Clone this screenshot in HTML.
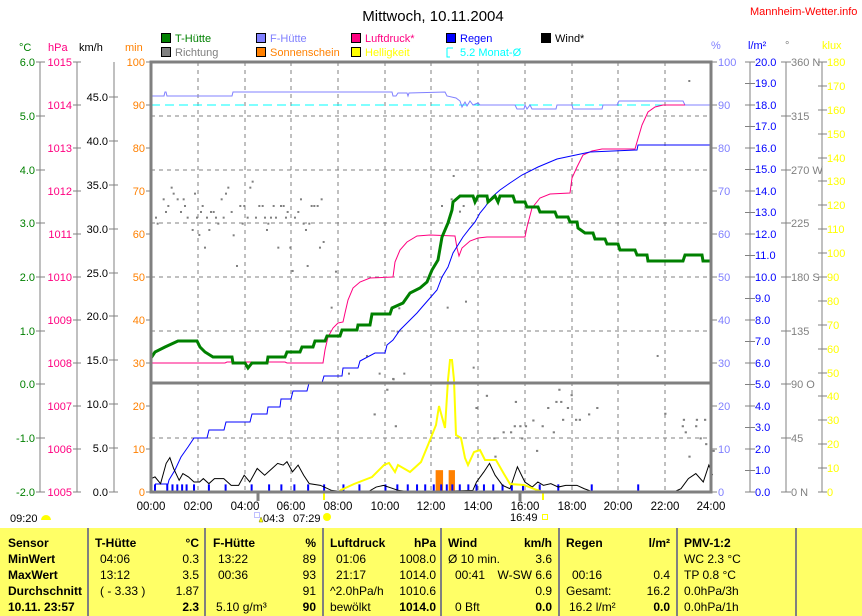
<!DOCTYPE html>
<html><head><meta charset="utf-8"><style>
html,body{margin:0;padding:0;background:#fff;}
svg{display:block;font-family:"Liberation Sans",sans-serif;font-size:11px;}
.ns{vector-effect:non-scaling-stroke;fill:none;}
.t{font-size:12px;}
.b{font-weight:bold;}
</style></head><body>
<svg width="862" height="616" viewBox="0 0 862 616" xmlns="http://www.w3.org/2000/svg">
<rect width="862" height="616" fill="#fff"/>
<text x="433" y="21" text-anchor="middle" font-size="15">Mittwoch, 10.11.2004</text>
<text x="750" y="15" fill="#ff0000">Mannheim-Wetter.info</text>
<!-- legend -->
<g stroke="#000" stroke-width="1">
<rect x="161.5" y="33.5" width="9" height="9" fill="#008000"/>
<rect x="256.5" y="33.5" width="9" height="9" fill="#8080ff"/>
<rect x="351.5" y="33.5" width="9" height="9" fill="#ff0080"/>
<rect x="446.5" y="33.5" width="9" height="9" fill="#0000ff"/>
<rect x="541.5" y="33.5" width="9" height="9" fill="#000"/>
<rect x="161.5" y="47.5" width="9" height="9" fill="#808080"/>
<rect x="256.5" y="47.5" width="9" height="9" fill="#ff8000"/>
<rect x="351.5" y="47.5" width="9" height="9" fill="#ffff00"/>
</g>
<path d="M447 48 h6 M447 48 v9 h3" stroke="#00ffff" fill="none"/>
<text x="175" y="42" fill="#008000">T-Hütte</text>
<text x="270" y="42" fill="#8080ff">F-Hütte</text>
<text x="365" y="42" fill="#ff0080">Luftdruck*</text>
<text x="460" y="42" fill="#0000ff">Regen</text>
<text x="555" y="42">Wind*</text>
<text x="175" y="56" fill="#808080">Richtung</text>
<text x="270" y="56" fill="#ff8000">Sonnenschein</text>
<text x="365" y="56" fill="#ffff00">Helligkeit</text>
<text x="460" y="56" fill="#00ffff">5.2 Monat-Ø</text>
<!-- unit labels -->
<text x="19" y="51" fill="#008000">°C</text>
<text x="48" y="51" fill="#ff0080">hPa</text>
<text x="79" y="51">km/h</text>
<text x="125" y="51" fill="#ff8000">min</text>
<text x="711" y="49" fill="#8080ff">%</text>
<text x="748" y="49" fill="#0000ff">l/m²</text>
<text x="785" y="49" fill="#808080">°</text>
<text x="822" y="49" fill="#ffff00">klux</text>

<!-- axis lines -->
<g stroke="#808080" stroke-width="1" fill="none">
<path d="M40 62V492 M36 62h9 M36 116h9 M36 170h9 M36 223h9 M36 277h9 M36 331h9 M36 384h9 M36 438h9 M36 492h9"/>
<path d="M77 62V492 M73 62h8 M73 105h8 M73 148h8 M73 191h8 M73 234h8 M73 277h8 M73 320h8 M73 363h8 M73 406h8 M73 449h8 M73 492h8"/>
<path d="M114 62V492 M109 97h9 M109 141h9 M109 185h9 M109 229h9 M109 273h9 M109 316h9 M109 360h9 M109 404h9 M109 448h9 M109 492h9"/>
<path d="M146 62h5 M146 105h5 M146 148h5 M146 191h5 M146 234h5 M146 277h5 M146 320h5 M146 363h5 M146 406h5 M146 449h5 M146 492h5"/>
<path d="M711 62h6 M711 105h6 M711 148h6 M711 191h6 M711 234h6 M711 277h6 M711 320h6 M711 363h6 M711 406h6 M711 449h6 M711 492h6"/>
<path d="M750 62V492 M745 62h10 M745 83.5h10 M745 105h10 M745 126.5h10 M745 148h10 M745 169.5h10 M745 191h10 M745 212.5h10 M745 234h10 M745 255.5h10 M745 277h10 M745 298.5h10 M745 320h10 M745 341.5h10 M745 363h10 M745 384.5h10 M745 406h10 M745 427.5h10 M745 449h10 M745 470.5h10 M745 492h10"/>
<path d="M786 62V492 M781 62h10 M781 116h10 M781 170h10 M781 223h10 M781 277h10 M781 331h10 M781 384h10 M781 438h10 M781 492h10"/>
<path d="M822 62V492 M818 62h9 M818 86h9 M818 110h9 M818 134h9 M818 158h9 M818 181h9 M818 205h9 M818 229h9 M818 253h9 M818 277h9 M818 301h9 M818 325h9 M818 349h9 M818 373h9 M818 396h9 M818 420h9 M818 444h9 M818 468h9 M818 492h9"/>
</g>
<g fill="#008000" text-anchor="end">
<text x="35" y="66">6.0</text><text x="35" y="120">5.0</text><text x="35" y="174">4.0</text><text x="35" y="227">3.0</text><text x="35" y="281">2.0</text><text x="35" y="335">1.0</text><text x="35" y="388">0.0</text><text x="35" y="442">-1.0</text><text x="35" y="496">-2.0</text>
</g>
<g fill="#ff0080" text-anchor="end">
<text x="72" y="66">1015</text><text x="72" y="109">1014</text><text x="72" y="152">1013</text><text x="72" y="195">1012</text><text x="72" y="238">1011</text><text x="72" y="281">1010</text><text x="72" y="324">1009</text><text x="72" y="367">1008</text><text x="72" y="410">1007</text><text x="72" y="453">1006</text><text x="72" y="496">1005</text>
</g>
<g fill="#000" text-anchor="end">
<text x="108" y="101">45.0</text><text x="108" y="145">40.0</text><text x="108" y="189">35.0</text><text x="108" y="233">30.0</text><text x="108" y="277">25.0</text><text x="108" y="320">20.0</text><text x="108" y="364">15.0</text><text x="108" y="408">10.0</text><text x="108" y="452">5.0</text><text x="108" y="496">0.0</text>
</g>
<g fill="#ff8000" text-anchor="end">
<text x="145" y="66">100</text><text x="145" y="109">90</text><text x="145" y="152">80</text><text x="145" y="195">70</text><text x="145" y="238">60</text><text x="145" y="281">50</text><text x="145" y="324">40</text><text x="145" y="367">30</text><text x="145" y="410">20</text><text x="145" y="453">10</text><text x="145" y="496">0</text>
</g>
<g fill="#8080ff">
<text x="718" y="66">100</text><text x="718" y="109">90</text><text x="718" y="152">80</text><text x="718" y="195">70</text><text x="718" y="238">60</text><text x="718" y="281">50</text><text x="718" y="324">40</text><text x="718" y="367">30</text><text x="718" y="410">20</text><text x="718" y="453">10</text><text x="718" y="496">0</text>
</g>
<g fill="#0000ff">
<text x="755" y="66">20.0</text><text x="755" y="87">19.0</text><text x="755" y="109">18.0</text><text x="755" y="130">17.0</text><text x="755" y="152">16.0</text><text x="755" y="173">15.0</text><text x="755" y="195">14.0</text><text x="755" y="216">13.0</text><text x="755" y="238">12.0</text><text x="755" y="259">11.0</text><text x="755" y="281">10.0</text><text x="755" y="302">9.0</text><text x="755" y="324">8.0</text><text x="755" y="345">7.0</text><text x="755" y="367">6.0</text><text x="755" y="388">5.0</text><text x="755" y="410">4.0</text><text x="755" y="431">3.0</text><text x="755" y="453">2.0</text><text x="755" y="474">1.0</text><text x="755" y="496">0.0</text>
</g>
<g fill="#808080">
<text x="791" y="66">360 N</text><text x="791" y="120">315</text><text x="791" y="174">270 W</text><text x="791" y="227">225</text><text x="791" y="281">180 S</text><text x="791" y="335">135</text><text x="791" y="388">90 O</text><text x="791" y="442">45</text><text x="791" y="496">0 N</text>
</g>
<g fill="#ffff00">
<text x="827" y="66">180</text><text x="827" y="90">170</text><text x="827" y="114">160</text><text x="827" y="138">150</text><text x="827" y="162">140</text><text x="827" y="185">130</text><text x="827" y="209">120</text><text x="827" y="233">110</text><text x="827" y="257">100</text><text x="827" y="281">90</text><text x="827" y="305">80</text><text x="827" y="329">70</text><text x="827" y="353">60</text><text x="827" y="377">50</text><text x="827" y="400">40</text><text x="827" y="424">30</text><text x="827" y="448">20</text><text x="827" y="472">10</text><text x="827" y="496">0</text>
</g>

<!-- grid -->
<g stroke="#808080" stroke-dasharray="4,4" stroke-width="1">
<path d="M198 62V492 M245 62V492 M291 62V492 M338 62V492 M385 62V492 M431 62V492 M478 62V492 M525 62V492 M572 62V492 M618 62V492 M665 62V492"/>
<path d="M151 116H711 M151 170H711 M151 223H711 M151 277H711 M151 331H711 M151 438H711"/>
</g>

<!-- cyan dashed month avg -->
<path d="M151 105H685" stroke="#00ffff" stroke-dasharray="9,5"/>

<!-- Richtung dots -->
<g fill="#808080" transform="translate(140,60) scale(0.3333)">
<rect x="45" y="470" width="6" height="6"/><rect x="50" y="488" width="6" height="6"/><rect x="68" y="415" width="6" height="6"/><rect x="75" y="453" width="6" height="6"/><rect x="82" y="435" width="6" height="6"/><rect x="92" y="380" width="6" height="6"/><rect x="98" y="398" width="6" height="6"/><rect x="110" y="415" width="6" height="6"/><rect x="120" y="453" width="6" height="6"/><rect x="128" y="415" width="6" height="6"/><rect x="132" y="435" width="6" height="6"/><rect x="140" y="470" width="6" height="6"/><rect x="155" y="507" width="6" height="6"/><rect x="162" y="398" width="6" height="6"/><rect x="168" y="470" width="6" height="6"/><rect x="175" y="522" width="6" height="6"/><rect x="180" y="453" width="6" height="6"/><rect x="185" y="435" width="6" height="6"/><rect x="192" y="560" width="6" height="6"/><rect x="198" y="470" width="6" height="6"/><rect x="205" y="507" width="6" height="6"/><rect x="210" y="453" width="6" height="6"/><rect x="218" y="453" width="6" height="6"/><rect x="225" y="470" width="6" height="6"/><rect x="232" y="488" width="6" height="6"/><rect x="242" y="415" width="6" height="6"/><rect x="248" y="470" width="6" height="6"/><rect x="255" y="398" width="6" height="6"/><rect x="262" y="380" width="6" height="6"/><rect x="272" y="453" width="6" height="6"/><rect x="278" y="523" width="6" height="6"/><rect x="288" y="615" width="6" height="6"/><rect x="298" y="435" width="6" height="6"/><rect x="305" y="488" width="6" height="6"/><rect x="310" y="435" width="6" height="6"/><rect x="320" y="470" width="6" height="6"/><rect x="328" y="380" width="6" height="6"/><rect x="335" y="362" width="6" height="6"/><rect x="345" y="470" width="6" height="6"/><rect x="355" y="435" width="6" height="6"/><rect x="365" y="435" width="6" height="6"/><rect x="372" y="470" width="6" height="6"/><rect x="378" y="507" width="6" height="6"/><rect x="382" y="488" width="6" height="6"/><rect x="390" y="470" width="6" height="6"/><rect x="398" y="435" width="6" height="6"/><rect x="405" y="470" width="6" height="6"/><rect x="412" y="560" width="6" height="6"/><rect x="420" y="435" width="6" height="6"/><rect x="428" y="435" width="6" height="6"/><rect x="435" y="470" width="6" height="6"/><rect x="440" y="453" width="6" height="6"/><rect x="448" y="560" width="6" height="6"/><rect x="455" y="630" width="6" height="6"/><rect x="462" y="470" width="6" height="6"/><rect x="472" y="453" width="6" height="6"/><rect x="480" y="415" width="6" height="6"/><rect x="488" y="488" width="6" height="6"/><rect x="495" y="507" width="6" height="6"/><rect x="500" y="615" width="6" height="6"/><rect x="505" y="488" width="6" height="6"/><rect x="512" y="435" width="6" height="6"/><rect x="520" y="435" width="6" height="6"/><rect x="530" y="435" width="6" height="6"/><rect x="537" y="560" width="6" height="6"/><rect x="542" y="415" width="6" height="6"/><rect x="548" y="543" width="6" height="6"/><rect x="572" y="740" width="6" height="6"/><rect x="585" y="632" width="6" height="6"/><rect x="678" y="885" width="6" height="6"/><rect x="624" y="938" width="6" height="6"/><rect x="716" y="938" width="6" height="6"/><rect x="758" y="955" width="6" height="6"/><rect x="775" y="742" width="6" height="6"/><rect x="790" y="938" width="6" height="6"/><rect x="770" y="812" width="6" height="6"/>
</g>
<g fill="#808080" transform="translate(420,60) scale(0.3333)">
<rect x="98" y="345" width="6" height="6"/><rect x="92" y="415" width="6" height="6"/><rect x="105" y="415" width="6" height="6"/><rect x="63" y="435" width="6" height="6"/><rect x="128" y="435" width="6" height="6"/><rect x="117" y="452" width="6" height="6"/><rect x="80" y="740" width="6" height="6"/><rect x="135" y="722" width="6" height="6"/><rect x="158" y="920" width="6" height="6"/><rect x="710" y="885" width="6" height="6"/><rect x="805" y="60" width="6" height="6"/>
</g>
<g fill="#808080" transform="translate(138.27,373.88) scale(0.3717,0.3378)">
<rect x="683" y="12" width="6" height="6"/><rect x="667" y="44" width="6" height="6"/><rect x="633" y="117" width="6" height="6"/><rect x="690" y="152" width="6" height="6"/><rect x="907" y="98" width="6" height="6"/><rect x="935" y="62" width="6" height="6"/><rect x="1013" y="80" width="6" height="6"/><rect x="1130" y="44" width="6" height="6"/><rect x="1163" y="60" width="6" height="6"/><rect x="1122" y="80" width="6" height="6"/><rect x="1135" y="80" width="6" height="6"/><rect x="1153" y="98" width="6" height="6"/><rect x="1100" y="98" width="6" height="6"/><rect x="1232" y="98" width="6" height="6"/><rect x="1210" y="117" width="6" height="6"/><rect x="1140" y="133" width="6" height="6"/><rect x="1175" y="133" width="6" height="6"/><rect x="1185" y="133" width="6" height="6"/><rect x="1085" y="152" width="6" height="6"/><rect x="1010" y="152" width="6" height="6"/><rect x="1025" y="152" width="6" height="6"/><rect x="1040" y="152" width="6" height="6"/><rect x="1060" y="135" width="6" height="6"/><rect x="1115" y="170" width="6" height="6"/><rect x="980" y="170" width="6" height="6"/><rect x="1000" y="170" width="6" height="6"/><rect x="955" y="188" width="6" height="6"/><rect x="1030" y="188" width="6" height="6"/><rect x="1070" y="225" width="6" height="6"/><rect x="958" y="242" width="6" height="6"/><rect x="1415" y="115" width="6" height="6"/><rect x="1465" y="133" width="6" height="6"/><rect x="1500" y="133" width="6" height="6"/><rect x="1522" y="133" width="6" height="6"/><rect x="1470" y="170" width="6" height="6"/><rect x="1510" y="188" width="6" height="6"/><rect x="1525" y="205" width="6" height="6"/><rect x="1480" y="242" width="6" height="6"/><rect x="1545" y="225" width="6" height="6"/><rect x="1498" y="152" width="6" height="6"/><rect x="1462" y="152" width="6" height="6"/>
</g>

<!-- F-Hütte -->
<polyline class="ns" stroke="#8080ff" stroke-width="1" points="151,96 164,96 165,92 166,92 167,96 232,96 233,92 392,92 393,96 396,96 398,93 407,93 408,96 409,93 445,92 447,96 456,98 460,101 462,107 465,102 467,106 470,101 473,105 478,103 480,105 515,105 517,109 524,109 525,105 527,109 530,105 532,109 556,109 557,105 572,105 573,109 602,109 603,105 617,105 619,101 683,101 685,105 711,105"/>

<!-- Luftdruck -->
<polyline class="ns" stroke="#ff0080" stroke-width="1" points="151,363 225,363 227,362 285,362 287,363 323,363 325,350 328,337 333,328 338,323 343,322 345,313 348,300 353,288 360,282 370,278 393,277 395,262 400,250 407,242 417,236 430,235 455,236 457,248 459,256 462,248 470,241 478,238 487,237 525,237 527,227 532,208 540,198 550,194 570,193 572,178 577,167 583,155 592,151 602,149 635,149 637,142 642,125 648,112 655,107 663,105 685,105"/>

<!-- Regen cumulative -->
<polyline class="ns" stroke="#0000ff" stroke-width="1" points="155,484 168,484 169,480 175,470 181,457 188,447 194,438 207,438 209,430 224,430 226,422 250,422 252,414 267,414 268,407 280,407 281,399 291,399 293,391 307,391 309,383 322,383 324,376 342,376 343,368 358,368 360,361 375,353 385,353 387,345 393,340 400,330 407,323 417,313 423,306 430,298 437,290 442,277 448,267 453,253 458,245 463,237 470,228 475,222 480,213 485,207 492,197 500,190 510,183 522,175 538,167 557,159 590,152 637,150 638,145 711,145"/>

<!-- T-Hütte -->
<polyline class="ns" stroke="#008000" stroke-width="3" points="151,358 155,352 165,347 178,341 197,341 200,347 205,352 213,357 232,357 233,363 245,363 248,368 252,363 267,363 268,357 285,357 287,352 300,352 302,347 313,347 315,341 325,341 327,336 340,336 342,330 357,330 358,325 370,325 372,314 390,314 392,308 403,303 410,293 420,288 427,282 432,270 438,260 442,237 448,223 452,210 453,202 460,196 473,196 475,202 478,196 487,196 488,202 495,196 498,202 500,196 513,196 515,202 525,202 527,207 538,207 540,212 555,212 557,217 568,217 570,222 577,222 578,228 585,233 593,233 595,239 605,239 607,244 618,244 620,250 635,250 637,255 647,255 648,261 683,261 685,255 702,255 703,261 711,261"/>

<!-- lower panel -->
<g transform="translate(138.27,373.88) scale(0.3717,0.3378)">
<rect x="800" y="285" width="20" height="65" fill="#ff8000"/>
<rect x="835" y="285" width="17" height="65" fill="#ff8000"/>
<path class="ns" d="M580 350H1060" stroke="#ff8000" stroke-dasharray="2,2"/>
<path class="ns" stroke="#0000ff" stroke-width="2" d="M45 350V327 M78 350V327 M92 350V327 M105 350V327 M118 350V327 M130 350V327 M150 350V327 M190 350V327 M235 350V327 M305 350V327 M352 350V327 M385 350V327 M420 350V327 M457 350V327 M500 350V327 M552 350V327 M595 350V327 M665 350V327 M697 350V327 M725 350V327 M750 350V327 M772 350V327 M795 350V327 M815 350V327 M830 350V327 M845 350V327 M865 350V327 M888 350V327 M910 350V327 M930 350V327 M955 350V327 M980 350V327 M1005 350V327 M1035 350V327 M1080 350V327 M1130 350V327 M1220 350V327 M1345 350V327"/>
<polyline class="ns" stroke="#000" stroke-width="1" points="35,310 45,305 60,325 75,265 85,248 95,280 110,315 120,295 135,305 150,320 165,320 175,310 190,325 205,310 230,310 250,330 270,330 285,300 300,320 320,280 340,300 360,280 375,265 390,270 400,260 415,290 430,270 445,300 460,325 490,330 520,345 545,348 580,348 620,348 640,335 660,330 700,345 740,350 900,345 910,320 930,290 945,265 960,300 980,330 1000,340 1020,275 1040,320 1060,335 1075,320 1090,330 1110,325 1130,335 1150,330 1180,330 1200,340 1220,348 1250,350 1440,350 1460,340 1480,310 1500,295 1520,320 1535,270 1545,300"/>
</g>
<!-- Helligkeit -->
<polyline class="ns" stroke="#ffff00" stroke-width="2" points="151,492 339,492 341,490 354,484 372,477 384,465 389,463 395,472 398,465 410,472 421,462 428,445 436,425 439,406 445,428 448,380 450,360 452,360 454,380 456,435 461,438 465,458 468,465 474,452 480,450 485,460 496,460 504,474 510,484 524,485 537,490 543,492 711,492"/>
<path d="M324 492V500 M543 492V500" stroke="#ffff00" stroke-width="2"/>

<!-- frame -->
<g stroke="#808080" stroke-width="3" fill="none">
<rect x="151" y="62" width="560" height="430"/>
<path d="M151 383H711"/>
<path d="M258 492V501 M520 492V501"/>
</g>

<!-- x labels -->
<g text-anchor="middle" font-size="11.5">
<text x="151" y="510">00:00</text><text x="198" y="510">02:00</text><text x="245" y="510">04:00</text><text x="291" y="510">06:00</text><text x="338" y="510">08:00</text><text x="385" y="510">10:00</text><text x="431" y="510">12:00</text><text x="478" y="510">14:00</text><text x="525" y="510">16:00</text><text x="572" y="510">18:00</text><text x="618" y="510">20:00</text><text x="665" y="510">22:00</text><text x="711" y="510">24:00</text>
</g>
<text x="10" y="522">09:20</text>
<path d="M41 520a5 5 0 0 1 10 0z" fill="#ffff00"/>
<rect x="254.5" y="512.5" width="5" height="5" fill="none" stroke="#8080ff" stroke-dasharray="1,1"/>
<path d="M259 522l2-5 2 5z" fill="#ffff00" stroke="#808000" stroke-width="0.5"/>
<text x="263" y="522">04:3</text>
<text x="293" y="522">07:29</text>
<circle cx="327" cy="517" r="4" fill="#ffff00"/>
<text x="510" y="521">16:49</text>
<rect x="542.5" y="514.5" width="5" height="5" fill="none" stroke="#ffff00"/>

<!-- table -->
<rect x="0" y="528" width="862" height="88" fill="#ffff66"/>
<g stroke="#808080" stroke-width="2">
<path d="M88 528V616 M205 528V616 M323 528V616 M441 528V616 M559 528V616 M677 528V616 M796 528V616"/>
</g>
<g class="t">
<g class="b"><text x="8" y="547">Sensor</text><text x="8" y="563">MinWert</text><text x="8" y="579">MaxWert</text><text x="8" y="595">Durchschnitt</text><text x="8" y="611">10.11. 23:57</text></g>
<text x="95" y="547" class="b">T-Hütte</text><text x="199" y="547" class="b" text-anchor="end">°C</text>
<text x="100" y="563">04:06</text><text x="199" y="563" text-anchor="end">0.3</text>
<text x="100" y="579">13:12</text><text x="199" y="579" text-anchor="end">3.5</text>
<text x="100" y="595">( - 3.33 )</text><text x="199" y="595" text-anchor="end">1.87</text>
<text x="199" y="611" class="b" text-anchor="end">2.3</text>
<text x="213" y="547" class="b">F-Hütte</text><text x="316" y="547" class="b" text-anchor="end">%</text>
<text x="218" y="563">13:22</text><text x="316" y="563" text-anchor="end">89</text>
<text x="218" y="579">00:36</text><text x="316" y="579" text-anchor="end">93</text>
<text x="316" y="595" text-anchor="end">91</text>
<text x="216" y="611">5.10 g/m³</text><text x="316" y="611" class="b" text-anchor="end">90</text>
<text x="330" y="547" class="b">Luftdruck</text><text x="436" y="547" class="b" text-anchor="end">hPa</text>
<text x="336" y="563">01:06</text><text x="436" y="563" text-anchor="end">1008.0</text>
<text x="336" y="579">21:17</text><text x="436" y="579" text-anchor="end">1014.0</text>
<text x="330" y="595">^2.0hPa/h</text><text x="436" y="595" text-anchor="end">1010.6</text>
<text x="330" y="611">bewölkt</text><text x="436" y="611" class="b" text-anchor="end">1014.0</text>
<text x="448" y="547" class="b">Wind</text><text x="552" y="547" class="b" text-anchor="end">km/h</text>
<text x="448" y="563">Ø 10 min.</text><text x="552" y="563" text-anchor="end">3.6</text>
<text x="455" y="579">00:41</text><text x="552" y="579" text-anchor="end">W-SW 6.6</text>
<text x="552" y="595" text-anchor="end">0.9</text>
<text x="455" y="611">0 Bft</text><text x="552" y="611" class="b" text-anchor="end">0.0</text>
<text x="566" y="547" class="b">Regen</text><text x="670" y="547" class="b" text-anchor="end">l/m²</text>
<text x="572" y="579">00:16</text><text x="670" y="579" text-anchor="end">0.4</text>
<text x="566" y="595">Gesamt:</text><text x="670" y="595" text-anchor="end">16.2</text>
<text x="569" y="611">16.2 l/m²</text><text x="670" y="611" class="b" text-anchor="end">0.0</text>
<text x="684" y="547" class="b">PMV-1:2</text>
<text x="684" y="563">WC 2.3 °C</text>
<text x="684" y="579">TP 0.8 °C</text>
<text x="684" y="595">0.0hPa/3h</text>
<text x="684" y="611">0.0hPa/1h</text>
</g>
</svg>
</body></html>
